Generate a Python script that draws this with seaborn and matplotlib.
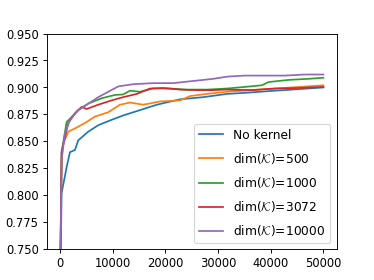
import pandas as pd
import seaborn as sns
import matplotlib.pyplot as plt

plt.rcParams['mathtext.fontset'] = 'cm'

# значения
steps_blue = [0, 320, 1270, 1900, 2850, 3480, 5380, 7280, 9820, 12000, 15200, 18400, 22800,
              27200, 31700, 35100, 40800, 44000, 50000]
acc_blue = [0.70, 0.802, 0.826, 0.840, 0.842, 0.851, 0.859, 0.865, 0.870, 0.874, 0.879, 0.884, 0.889,
            0.891, 0.894, 0.895, 0.897, 0.898, 0.900]

steps_500 = [0, 320, 630, 1580, 2850, 4750, 6650, 9170, 11400, 13300, 15800, 19000, 22800,
             24700, 27900, 31700, 37700, 44000, 50000]
acc_500 = [0.70, 0.835, 0.848, 0.859, 0.862, 0.867, 0.873, 0.877, 0.884, 0.886, 0.884, 0.887, 0.888,
           0.892, 0.894, 0.896, 0.898, 0.900, 0.902]

steps_1000 = [0, 320, 1270, 1900, 3480, 5380, 7920, 10400, 12000, 13300, 15200, 17700, 20900,
              24000, 27900, 31700, 35100, 38300, 39600, 43400, 47200, 50000]
acc_1000 = [0.70, 0.840, 0.868, 0.871, 0.879, 0.885, 0.890, 0.893, 0.8935, 0.897, 0.896, 0.899, 0.899,
            0.898, 0.898, 0.899, 0.9005, 0.902, 0.905, 0.907, 0.908, 0.909]

steps_3072 = [0, 320, 1580, 2850, 4120, 5070, 7280, 9820, 12000, 14600, 17100, 19600, 22800,
              26000, 29100, 31300, 36400, 40800, 45300, 50000]
acc_3072 = [0.70, 0.840, 0.867, 0.876, 0.882, 0.880, 0.884, 0.888, 0.891, 0.894, 0.899, 0.8995, 0.898,
            0.8975, 0.8975, 0.898, 0.8975, 0.899, 0.8995, 0.9005]

steps_10000 = [0, 320, 950, 1900, 3480, 5380, 7280, 9170, 11100, 13900, 17700, 21500, 25300,
               29100, 31700, 35100, 38900, 42700, 46500, 50000]
acc_10000 = [0.70, 0.833, 0.857, 0.870, 0.879, 0.885, 0.891, 0.896, 0.901, 0.903, 0.904, 0.904, 0.906,
             0.908, 0.910, 0.911, 0.911, 0.911, 0.912, 0.912]

yticks = [0.750, 0.775, 0.800, 0.825, 0.850, 0.875, 0.900, 0.925, 0.950]

series = [
    ("No kernel", steps_blue, acc_blue),
    (r"dim($\mathcal{K}$)=500", steps_500, acc_500),
    (r"dim($\mathcal{K}$)=1000", steps_1000, acc_1000),
    (r"dim($\mathcal{K}$)=3072", steps_3072, acc_3072),
    (r"dim($\mathcal{K}$)=10000", steps_10000, acc_10000),
]
colors = sns.color_palette("tab10", 5)

fig, ax = plt.subplots(figsize=(4.5, 3.37), dpi=374 / 4.5)
for (name, x, y), c in zip(series, colors):
    df = pd.DataFrame({"step": x, "acc": y})
    sns.lineplot(data=df, x="step", y="acc", color=c, label=name, ax=ax)

ax.set_ylim(0.75, 0.95)
ax.set_yticks(yticks)
ax.set_yticklabels([f"{t:.3f}" for t in yticks])
ax.set_xlabel("")
ax.set_ylabel("")
ax.legend(loc="lower right", fontsize=10.6, labelspacing=0.75)
plt.savefig("out.png")
